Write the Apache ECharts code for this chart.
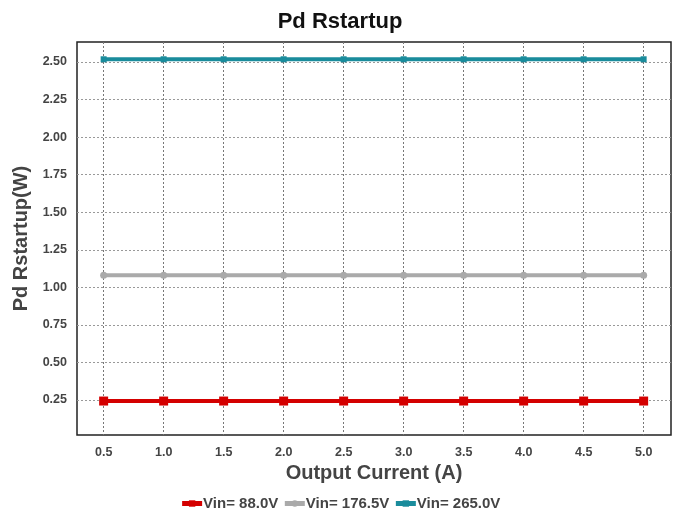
<!DOCTYPE html>
<html>
<head>
<meta charset="utf-8">
<script src="https://cdn.jsdelivr.net/npm/echarts@6/dist/echarts.min.js"></script>
<style>
html, body { margin: 0; padding: 0; background: #fff; }
#chart { width: 680px; height: 515px; }
</style>
</head>
<body>
<div id="chart"></div>
<script>
/* data */
var current = [0.5, 1.0, 1.5, 2.0, 2.5, 3.0, 3.5, 4.0, 4.5, 5.0];
var vin88 = [0.243, 0.243, 0.243, 0.243, 0.243, 0.243, 0.243, 0.243, 0.243, 0.243];
var vin176 = [1.081, 1.081, 1.081, 1.081, 1.081, 1.081, 1.081, 1.081, 1.081, 1.081];
var vin265 = [2.518, 2.518, 2.518, 2.518, 2.518, 2.518, 2.518, 2.518, 2.518, 2.518];
var seriesNames = ['Vin= 88.0V', 'Vin= 176.5V', 'Vin= 265.0V'];
var xTicks = [0.5, 1.0, 1.5, 2.0, 2.5, 3.0, 3.5, 4.0, 4.5, 5.0];
var yTicks = [0.25, 0.5, 0.75, 1.0, 1.25, 1.5, 1.75, 2.0, 2.25, 2.5];

var font = 'Liberation Sans, Arial, sans-serif';
var txt = '#444444';

function pairs(ys) {
    return current.map(function (x, i) { return [x, ys[i]]; });
}

function makeSeries(name, ys, color, symbol, size, width) {
    return {
        name: name,
        type: 'line',
        data: pairs(ys),
        symbol: symbol,
        symbolSize: size,
        lineStyle: { color: color, width: width },
        itemStyle: { color: color },
        emphasis: { disabled: true },
        z: 3
    };
}

var option = {
    backgroundColor: '#ffffff',
    animation: false,
    title: {
        text: 'Pd Rstartup',
        left: 'center',
        top: 6,
        textStyle: { fontFamily: font, fontSize: 22, fontWeight: 'bold', color: '#111' }
    },
    legend: {
        bottom: -1,
        left: 'center',
        itemGap: 4,
        itemWidth: 20,
        itemHeight: 8,
        lineStyle: { width: 5 },
        textStyle: { fontFamily: font, fontSize: 15, fontWeight: 'bold', color: txt, padding: [0, 0, 0, -4] },
        data: seriesNames
    },
    grid: { left: 77, right: 9, top: 42, bottom: 80, show: true, borderColor: '#222', borderWidth: 1.5 },
    xAxis: {
        type: 'value',
        min: 0.278,
        max: 5.228,
        name: 'Output Current (A)',
        nameLocation: 'middle',
        nameGap: 28,
        nameTextStyle: { fontFamily: font, fontSize: 20, fontWeight: 'bold', color: txt },
        axisLine: { show: false },
        axisTick: { show: false, customValues: xTicks },
        axisLabel: {
            customValues: xTicks,
            margin: 11,
            fontFamily: font, fontSize: 12.5, fontWeight: 'bold', color: txt,
            formatter: function (v) { return v.toFixed(1); }
        },
        splitLine: { show: true, customValues: xTicks, lineStyle: { color: '#777', type: [2, 2], width: 1 } }
    },
    yAxis: {
        type: 'value',
        min: 0.017,
        max: 2.633,
        name: 'Pd Rstartup(W)',
        nameLocation: 'middle',
        nameGap: 44,
        nameTextStyle: { fontFamily: font, fontSize: 20, fontWeight: 'bold', color: txt },
        axisLine: { show: false },
        axisTick: { show: false, customValues: yTicks },
        axisLabel: {
            customValues: yTicks,
            margin: 10,
            fontFamily: font, fontSize: 12.5, fontWeight: 'bold', color: txt,
            formatter: function (v) { return v.toFixed(2); }
        },
        splitLine: { show: true, customValues: yTicks, lineStyle: { color: '#999', type: [2, 2], width: 1 } }
    },
    series: [
        makeSeries(seriesNames[0], vin88, '#d40000', 'rect', 9, 4),
        makeSeries(seriesNames[1], vin176, '#aaaaaa', 'circle', 7, 4),
        makeSeries(seriesNames[2], vin265, '#1a8c9c', 'rect', 6, 4)
    ]
};

var chart = echarts.init(document.getElementById('chart'));
chart.setOption(option);
</script>
</body>
</html>
